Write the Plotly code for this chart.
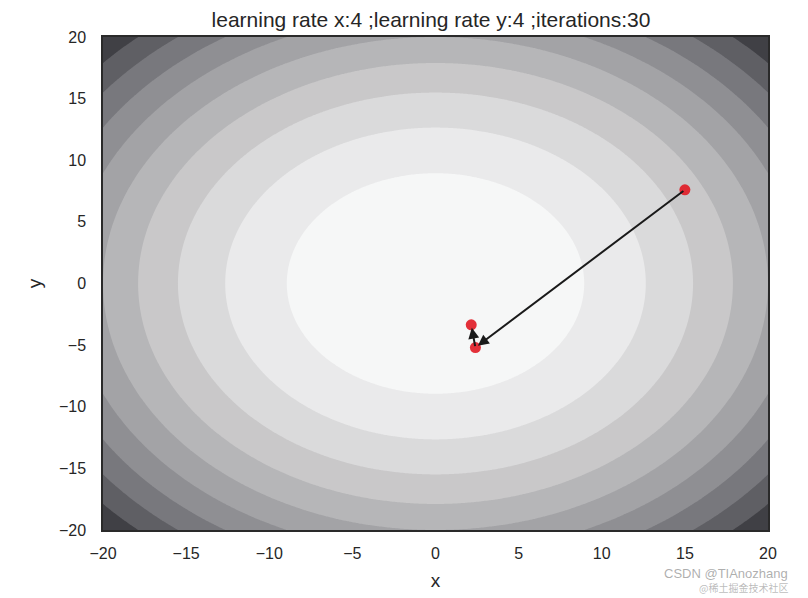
import numpy as np
import plotly.graph_objects as go

# ---- data ----
title_text = "learning rate x:4 ;learning rate y:4 ;iterations:30"
axis_min, axis_max = -20, 20
tick_vals = [-20, -15, -10, -5, 0, 5, 10, 15, 20]
coef_x, coef_y = 1.0, 1.0          # f(x, y) = coef_x*x^2 + coef_y*y^2
level_start, level_end, level_step = 80, 720, 80
band_colors = ["#f6f7f7", "#eaeaeb", "#dadadb", "#c9c8c9", "#b6b6b8",
               "#a3a3a6", "#8f8f93", "#78787d", "#5f5f64", "#404045"]
path_x = [15.0, 2.4, 2.15]
path_y = [7.6, -5.2, -3.35]
watermark_texts = ["CSDN @TIAnozhang", "@稀土掘金技术社区"]

# ---- surface ----
gx = np.linspace(axis_min, axis_max, 401)
gy = np.linspace(axis_min, axis_max, 401)
GX, GY = np.meshgrid(gx, gy)
Z = coef_x * GX ** 2 + coef_y * GY ** 2

n = len(band_colors)
colorscale = [[i / (n - 1), c] for i, c in enumerate(band_colors)]

fig = go.Figure()
fig.add_trace(go.Contour(
    x=gx, y=gy, z=Z,
    contours=dict(coloring="fill", start=level_start, end=level_end, size=level_step),
    line=dict(width=0),
    colorscale=colorscale,
    showscale=False,
    hoverinfo="skip",
))
fig.add_trace(go.Scatter(
    x=path_x, y=path_y, mode="markers",
    marker=dict(color="rgba(225,25,35,0.9)", size=11, line=dict(width=0)),
    showlegend=False,
))

for i in range(len(path_x) - 1):
    fig.add_annotation(
        x=path_x[i + 1], y=path_y[i + 1], ax=path_x[i], ay=path_y[i],
        xref="x", yref="y", axref="x", ayref="y",
        text="", showarrow=True, arrowhead=2, arrowsize=1.1,
        arrowwidth=2, arrowcolor="#1a1a1a", standoff=3,
    )

# page body has an ~8px offset; plot area spans x 103..768, y 37..530 on screen
OFF = 8
PL, PR, PT, PB = 103, 768, 37, 530


def px_to_paper(px, py):
    return (px - PL) / (PR - PL), (PB - py) / (PB - PT)


wx, wy = px_to_paper(790, 573)
fig.add_annotation(
    x=wx, y=wy, xref="paper", yref="paper", xanchor="right", yanchor="middle",
    text=watermark_texts[0], showarrow=False,
    font=dict(family="Liberation Sans", size=13, color="rgba(120,120,120,0.6)"),
)
wx, wy = px_to_paper(790, 587)
fig.add_annotation(
    x=wx, y=wy, xref="paper", yref="paper", xanchor="right", yanchor="middle",
    text=watermark_texts[1], showarrow=False,
    font=dict(family="Noto Sans CJK SC", size=10, color="rgba(120,120,120,0.5)"),
)

axis_common = dict(
    range=[axis_min, axis_max], tickvals=tick_vals,
    showgrid=False, zeroline=False, automargin=False,
    showline=True, linecolor="#2a2a2a", linewidth=1.5, mirror=True,
    ticks="outside", tickcolor="rgba(0,0,0,0)",
    tickfont=dict(family="Liberation Sans", size=16, color="#262626"),
)

W, H = 808 - OFF, 598 - OFF
fig.update_layout(
    width=W, height=H,
    margin=dict(l=PL - OFF, r=W - (PR - OFF), t=PT - OFF, b=H - (PB - OFF), autoexpand=False),
    paper_bgcolor="white", plot_bgcolor="white",
    title=dict(text=title_text, x=(431 - PL) / (PR - PL), xanchor="center",
               xref="paper", y=(H - (20 - OFF)) / H, yanchor="middle",
               font=dict(family="Liberation Sans", size=21, color="#262626")),
    xaxis=dict(**axis_common, ticklen=8,
               title=dict(text="x", standoff=13,
                          font=dict(family="Liberation Sans", size=19, color="#262626"))),
    yaxis=dict(**axis_common, ticklen=12,
               title=dict(text="y", standoff=12,
                          font=dict(family="Liberation Sans", size=19, color="#262626"))),
    showlegend=False,
)

fig.write_html("out.html")
